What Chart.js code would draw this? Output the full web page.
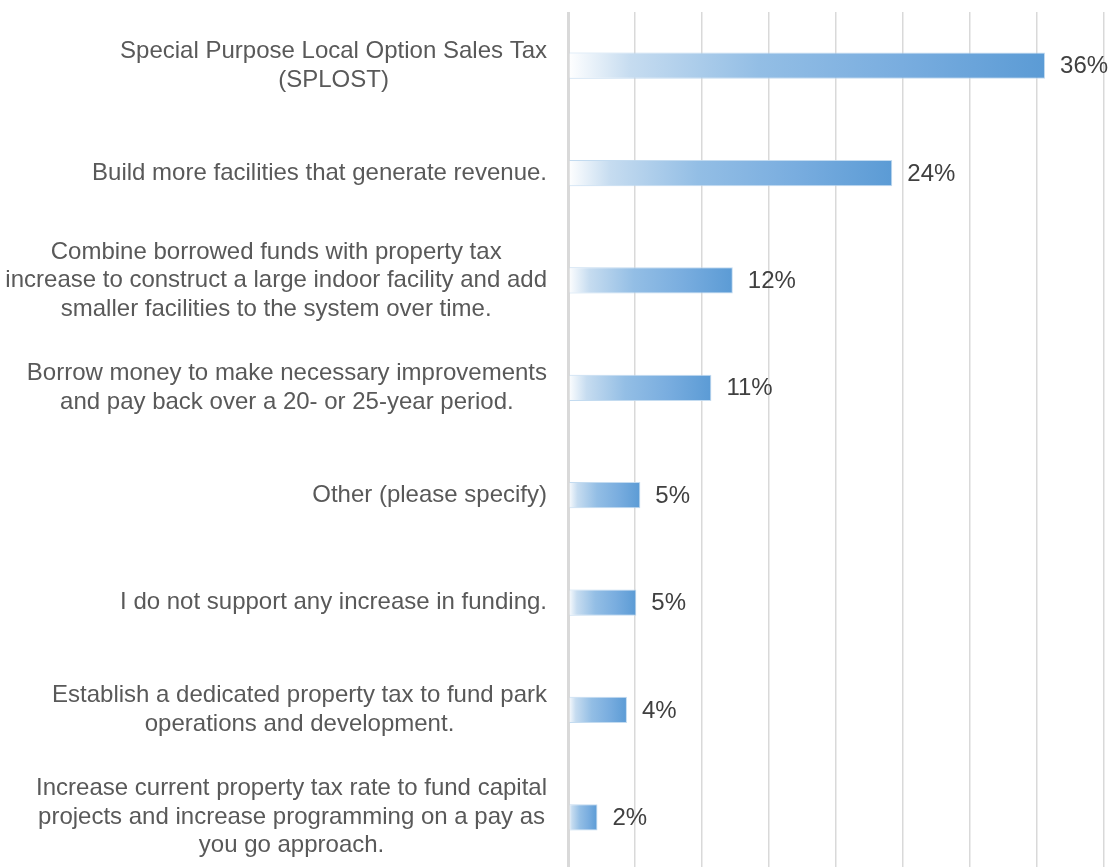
<!DOCTYPE html>
<html>
<head>
<meta charset="utf-8">
<script src="https://cdn.jsdelivr.net/npm/chart.js@4.4.1/dist/chart.umd.min.js"></script>
<style>
  html, body { margin: 0; padding: 0; background: #fff; overflow: hidden; }
  #wrap { position: relative; width: 1111px; height: 871px; }
</style>
</head>
<body>
<div id="wrap"><canvas id="myChart"></canvas></div>
<script>
// categories (one array of lines per bar)
var categorias = [
  ['Special Purpose Local Option Sales Tax', '(SPLOST)'],
  ['Build more facilities that generate revenue.'],
  ['Combine borrowed funds with property tax', 'increase to construct a large indoor facility and add', 'smaller facilities to the system over time.'],
  ['Borrow money to make necessary improvements', 'and pay back over a 20- or 25-year period.'],
  ['Other (please specify)'],
  ['I do not support any increase in funding.'],
  ['Establish a dedicated property tax to fund park', 'operations and development.'],
  ['Increase current property tax rate to fund capital', 'projects and increase programming on a pay as', 'you go approach.']
]
// percent of responses
var valores = [35.6, 24.2, 12.3, 10.7, 5.4, 5.1, 4.4, 2.2]
// label shown next to each bar
var rotulos = ['36%', '24%', '12%', '11%', '5%', '5%', '4%', '2%']
var xMax = 40
var xPasso = 5

var fonte = '"Liberation Sans", Arial, sans-serif'

function gradiente(context) {
  var chart = context.chart
  if (!chart.chartArea || !chart.scales.x) return '#5b9bd5'
  var x = chart.scales.x
  var x0 = x.getPixelForValue(0)
  var x1 = x.getPixelForValue(valores[context.dataIndex])
  if (!isFinite(x0) || !isFinite(x1) || x1 <= x0) return '#5b9bd5'
  var g = chart.ctx.createLinearGradient(x0, 0, x1, 0)
  g.addColorStop(0, '#ffffff')
  g.addColorStop(0.13, '#c6dcf0')
  g.addColorStop(0.4, '#93bee5')
  g.addColorStop(0.7, '#79addf')
  g.addColorStop(1, '#5b9bd5')
  return g
}

// draws the category text (right aligned block, centred lines) and the value labels
var textos = {
  id: 'textos',
  afterDraw: function(chart) {
    var ctx = chart.ctx
    var y = chart.scales.y
    var x = chart.scales.x
    var lh = 28.5
    ctx.save()
    ctx.font = '24px ' + fonte
    ctx.textBaseline = 'middle'
    ctx.fillStyle = '#595959'
    ctx.textAlign = 'center'
    for (var i = 0; i < categorias.length; i++) {
      var linhas = categorias[i]
      var yc = y.getPixelForTick(i)
      var maxW = 0
      linhas.forEach(function(l) { maxW = Math.max(maxW, ctx.measureText(l).width) })
      var cx = chart.chartArea.left - 21 - maxW / 2
      var y0 = yc - (linhas.length - 1) * lh / 2
      linhas.forEach(function(l, k) { ctx.fillText(l, cx, y0 + k * lh) })
    }
    ctx.fillStyle = '#404040'
    ctx.textAlign = 'left'
    var meta = chart.getDatasetMeta(0)
    meta.data.forEach(function(bar, i) {
      ctx.fillText(rotulos[i], x.getPixelForValue(valores[i]) + 15, bar.y + 1)
    })
    ctx.restore()
  }
}

var ctx = document.getElementById('myChart').getContext('2d')
var myChart = new Chart(ctx, {
  type: 'bar',
  data: {
    labels: categorias,
    datasets: [{
      data: valores,
      backgroundColor: gradiente,
      borderColor: 'rgba(189,215,238,0.9)',
      borderWidth: 1,
      borderSkipped: 'start',
      categoryPercentage: 1,
      barPercentage: 0.245
    }]
  },
  options: {
    indexAxis: 'y',
    responsive: true,
    maintainAspectRatio: false,
    animation: false,
    layout: { padding: { top: 12, right: 7, bottom: 0, left: 0 } },
    plugins: {
      legend: { display: false },
      tooltip: { enabled: false }
    },
    scales: {
      x: {
        min: 0,
        max: xMax,
        ticks: { display: false, stepSize: xPasso },
        border: { display: false },
        grid: {
          color: '#d9d9d9',
          lineWidth: function(c) { return c.tick && c.tick.value === 0 ? 3 : 1.5 },
          drawTicks: false
        },
        afterFit: function(s) { s.height = 0 }
      },
      y: {
        ticks: { display: false },
        border: { display: false },
        grid: { display: false },
        afterFit: function(s) { s.width = 568 }
      }
    }
  },
  plugins: [textos]
})
</script>
</body>
</html>
